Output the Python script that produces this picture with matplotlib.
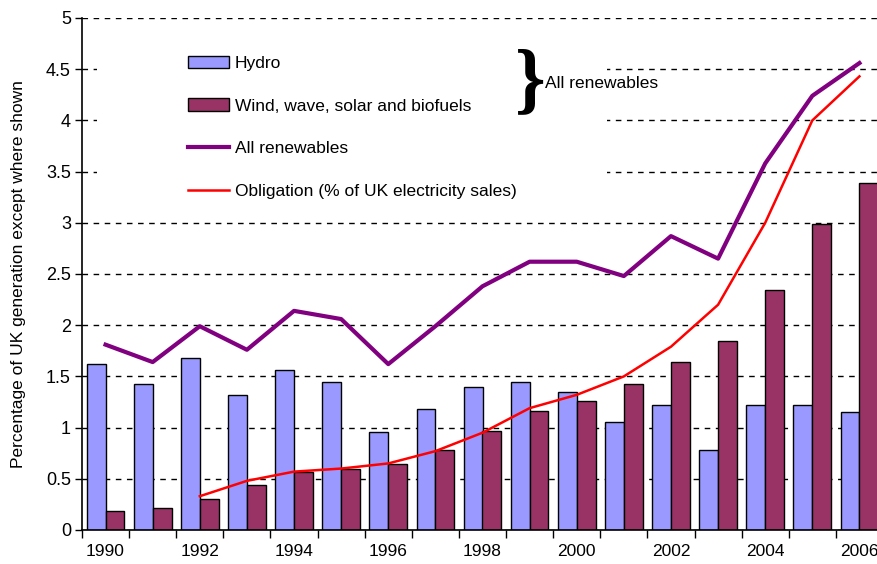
import matplotlib.pyplot as plt
import matplotlib.patches as mpatches
from matplotlib.lines import Line2D
import numpy as np

plt.rcParams['font.family'] = ['Liberation Sans', 'DejaVu Sans']

years = list(range(1990, 2007))
hydro = [1.62, 1.43, 1.68, 1.32, 1.56, 1.45, 0.96, 1.18, 1.40, 1.45, 1.35,
         1.05, 1.22, 0.78, 1.22, 1.22, 1.15]
wind = [0.19, 0.21, 0.30, 0.44, 0.57, 0.60, 0.64, 0.78, 0.97, 1.16, 1.26,
        1.43, 1.64, 1.85, 2.34, 2.99, 3.39]
all_renew = [1.81, 1.64, 1.99, 1.76, 2.14, 2.06, 1.62, 1.99, 2.38, 2.62, 2.62,
             2.48, 2.87, 2.65, 3.58, 4.24, 4.56]
oblig_years = list(range(1992, 2007))
obligation = [0.33, 0.48, 0.57, 0.60, 0.65, 0.77, 0.95, 1.19, 1.32, 1.50,
              1.79, 2.20, 3.00, 4.00, 4.43]

hydro_c = '#9999FF'
wind_c = '#993366'
purple = '#800080'

fig = plt.figure(figsize=(8.77, 5.64), dpi=100)
ax = fig.add_axes([82/877, 34/564, 801/877, 512/564])

x = np.arange(len(years))
bw = 0.40
ax.bar(x - bw/2, hydro, bw, color=hydro_c, edgecolor='black', linewidth=1, zorder=2)
ax.bar(x + bw/2, wind, bw, color=wind_c, edgecolor='black', linewidth=1, zorder=2)
ax.plot(x, all_renew, color=purple, linewidth=3, zorder=3)
ox = [years.index(y) for y in oblig_years]
ax.plot(ox, obligation, color='red', linewidth=1.8, zorder=3)

ax.set_xlim(-0.5, len(years) - 0.5)
ax.set_ylim(0, 5)
ax.set_yticks(np.arange(0, 5.01, 0.5))
ax.set_yticklabels(['0', '0.5', '1', '1.5', '2', '2.5', '3', '3.5', '4', '4.5', '5'])
ax.set_xticks(np.arange(-0.5, len(years), 1.0))
ax.set_xticklabels([])
ax.set_xticks(x, minor=True)
ax.set_xticklabels([str(y) if y % 2 == 0 else '' for y in years], minor=True)
ax.tick_params(axis='x', which='major', length=6, width=1, direction='out')
ax.tick_params(axis='x', which='minor', length=0, pad=10, labelsize=12.5)
ax.tick_params(axis='y', length=5, width=1, direction='out', labelsize=13, pad=3)

ax.yaxis.grid(True, linestyle=(0, (4, 4)), color='black', linewidth=1)
ax.set_axisbelow(True)
for s in ['top', 'right']:
    ax.spines[s].set_visible(False)
ax.spines['left'].set_linewidth(1.2)
ax.spines['bottom'].set_linewidth(1.2)

ax.set_ylabel('Percentage of UK generation except where shown', fontsize=12.5, labelpad=14)

# white area behind the legend hiding the gridlines
ax.add_patch(mpatches.Rectangle((0.019, 0.64), 0.636, 0.32, transform=ax.transAxes,
                                facecolor='white', edgecolor='none', zorder=1.5))

handles = [mpatches.Patch(facecolor=hydro_c, edgecolor='black', linewidth=1),
           mpatches.Patch(facecolor=wind_c, edgecolor='black', linewidth=1),
           Line2D([], [], color=purple, linewidth=3),
           Line2D([], [], color='red', linewidth=1.8)]
labels = ['Hydro', 'Wind, wave, solar and biofuels', 'All renewables',
          'Obligation (% of UK electricity sales)']
leg = ax.legend(handles, labels, loc='upper left', bbox_to_anchor=(0.132, 0.926),
                frameon=False, fontsize=12.5, handlelength=2.4, handletextpad=0.3,
                labelspacing=1.58, borderpad=0, borderaxespad=0)
leg.set_zorder(4)

ax.text(0.56, 0.872, '}', transform=ax.transAxes, fontsize=56, ha='center',
        va='center', family='Liberation Serif', fontweight='bold', zorder=4)
ax.text(0.5785, 0.872, 'All renewables', transform=ax.transAxes, fontsize=12.5,
        ha='left', va='center', zorder=4)

fig.savefig('out.png', dpi=100)
